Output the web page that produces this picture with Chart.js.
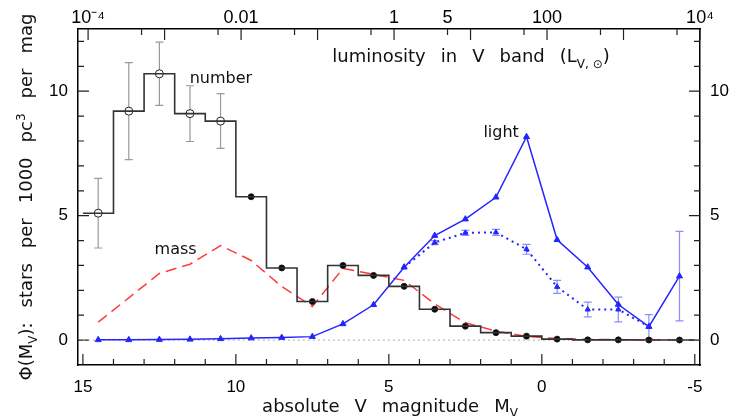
<!DOCTYPE html>
<html lang="en">
<head>
<meta charset="UTF-8" />
<title>Luminosity function</title>
<script src="https://cdn.jsdelivr.net/npm/chart.js"></script>
<style>
  body { margin: 0; background: #fff; }
  .wrap { width: 731px; height: 416px; position: relative; }
</style>
</head>
<body>
<div class="wrap"><canvas id="lf"></canvas></div>
<script>
// bin centres, absolute V magnitude
const mags = [14.5, 13.5, 12.5, 11.5, 10.5, 9.5, 8.5, 7.5, 6.5, 5.5, 4.5, 3.5, 2.5, 1.5, 0.5, -0.5, -1.5, -2.5, -3.5, -4.5];
const binEdges = [15, 14, 13, 12, 11, 10, 9, 8, 7, 6, 5, 4, 3, 2, 1, 0, -1, -2, -3, -4, -5];

// number of stars per 1000 pc^3 per mag
const numberVals = [5.1, 9.2, 10.7, 9.1, 8.8, 5.76, 2.9, 1.55, 3.0, 2.6, 2.16, 1.24, 0.56, 0.3, 0.16, 0.04, 0.01, 0.01, 0.005, 0.002];
const numberErr = [1.4, 1.95, 1.27, 1.12, 1.1, null, null, null, null, null, null, null, null, null, null, null, null, null, null, null];

// mass (dashed red)
const massVals = [0.72, 1.7, 2.68, 3.05, 3.8, 3.2, 2.15, 1.35, 2.88, 2.64, 2.4, 1.45, 0.7, 0.36, 0.15, 0.06, 0.03, 0.02, 0.01, 0.01];

// light (solid blue)
const lightVals = [0.01, 0.01, 0.02, 0.03, 0.05, 0.08, 0.1, 0.14, 0.65, 1.42, 2.93, 4.2, 4.86, 5.74, 8.17, 4.03, 2.93, 1.43, 0.54, 2.57];
const lightErr = [null, null, null, null, null, null, null, null, null, null, null, null, null, null, null, null, null, null, null, 1.8];

// light, alternative (dotted blue)
const lightAltMags = [4.5, 3.5, 2.5, 1.5, 0.5, -0.5, -1.5, -2.5, -3.5];
const lightAltVals = [2.93, 3.92, 4.31, 4.33, 3.65, 2.14, 1.23, 1.23, 0.54];
const lightAltErr = [null, 0.08, 0.1, 0.12, 0.2, 0.26, 0.3, 0.5, 0.48];

// axes
const magTicks = [15, 14, 13, 12, 11, 10, 9, 8, 7, 6, 5, 4, 3, 2, 1, 0, -1, -2, -3, -4, -5];
const phiTicks = [0, 1, 2, 3, 4, 5, 6, 7, 8, 9, 10, 11, 12];
const lumTicks = [1e-4, 5e-4, 1e-3, 5e-3, 0.01, 0.05, 0.1, 0.5, 1, 5, 10, 50, 100, 500, 1000, 5000, 1e4];
const lumLabels = ['10⁻⁴', '', '', '', '0.01', '', '', '', '1', '5', '', '', '100', '', '', '', '10⁴'];
const MSUN_V = 4.83;

const TICK_FONT = { family: '"Liberation Sans", Arial, sans-serif', size: 17 };
const TXT = '"DejaVu Sans", sans-serif';
const BLUE = '#2424ff';

const magOfLum = L => MSUN_V - 2.5 * Math.log10(L);

const errBarSets = [
  { x: mags, y: numberVals, err: numberErr, color: '#9a9a9a' },
  { x: mags, y: lightVals, err: lightErr, color: '#8c8cff' },
  { x: lightAltMags, y: lightAltVals, err: lightAltErr, color: '#8c8cff' }
];

const errorBars = {
  id: 'errorBars',
  beforeDatasetsDraw(chart) {
    const { ctx, scales: { x, y } } = chart;
    ctx.save();
    ctx.lineWidth = 1.2;
    errBarSets.forEach(s => {
      ctx.strokeStyle = s.color;
      s.err.forEach((e, i) => {
        if (e == null) return;
        const px = x.getPixelForValue(s.x[i]);
        const top = y.getPixelForValue(s.y[i] + e);
        const bot = y.getPixelForValue(s.y[i] - e);
        ctx.beginPath();
        ctx.moveTo(px, top); ctx.lineTo(px, bot);
        ctx.moveTo(px - 4, top); ctx.lineTo(px + 4, top);
        ctx.moveTo(px - 4, bot); ctx.lineTo(px + 4, bot);
        ctx.stroke();
      });
    });
    ctx.restore();
  }
};

// tick marks drawn inward, long at labelled values
const innerTicks = {
  id: 'innerTicks',
  beforeDatasetsDraw(chart) {
    const { ctx, chartArea: a, scales } = chart;
    ctx.save();
    ctx.strokeStyle = '#222';
    ctx.lineWidth = 1.2;
    ctx.beginPath();
    magTicks.forEach(m => {
      const px = scales.x.getPixelForValue(m);
      const len = m % 5 === 0 ? 11 : 6;
      ctx.moveTo(px, a.bottom); ctx.lineTo(px, a.bottom - len);
    });
    lumTicks.forEach(L => {
      const px = scales.x2.getPixelForValue(magOfLum(L));
      const lg = Math.log10(L);
      const len = Math.abs(lg - Math.round(lg)) < 1e-6 ? 11 : 6;
      ctx.moveTo(px, a.top); ctx.lineTo(px, a.top + len);
    });
    phiTicks.forEach(v => {
      const py = scales.y.getPixelForValue(v);
      const len = v % 5 === 0 ? 11 : 6;
      ctx.moveTo(a.left, py); ctx.lineTo(a.left + len, py);
      ctx.moveTo(a.right, py); ctx.lineTo(a.right - len, py);
    });
    ctx.stroke();
    ctx.restore();
  }
};

// text made of parts: {t, font, dy} or {gap}
function richWidth(ctx, parts) {
  let w = 0;
  parts.forEach(p => {
    if (p.gap) { w += p.gap; return; }
    ctx.font = p.font; w += ctx.measureText(p.t).width;
  });
  return w;
}
function drawRich(ctx, parts, cx, base) {
  let x = cx - richWidth(ctx, parts) / 2;
  parts.forEach(p => {
    if (p.gap) { x += p.gap; return; }
    ctx.font = p.font;
    ctx.fillText(p.t, x, base + (p.dy || 0));
    x += ctx.measureText(p.t).width;
  });
}

const big = '18px ' + TXT, small = '12px ' + TXT, lab = '16px ' + TXT;
const G = { gap: 15 };

const texts = {
  id: 'texts',
  afterDraw(chart) {
    const { ctx, chartArea: a, scales: { x, y } } = chart;
    ctx.save();
    ctx.fillStyle = '#111';
    ctx.textAlign = 'left';
    ctx.textBaseline = 'alphabetic';

    // bottom title
    drawRich(ctx, [
      { t: 'absolute', font: big }, G, { t: 'V', font: big }, G,
      { t: 'magnitude', font: big }, G, { t: 'M', font: big }, { t: 'V', font: small, dy: 5 }
    ], (a.left + a.right) / 2 + 1, 412);

    // top title
    drawRich(ctx, [
      { t: 'luminosity', font: big }, G, { t: 'in', font: big }, G, { t: 'V', font: big }, G,
      { t: 'band', font: big }, G, { t: '(L', font: big }, { t: 'V, ⊙', font: small, dy: 6 }, { t: ')', font: big }
    ], 471, 62);

    // in-plot labels
    ctx.font = lab;
    ctx.textAlign = 'center';
    ctx.fillText('number', x.getPixelForValue(10.49), y.getPixelForValue(10.35));
    ctx.fillText('mass', x.getPixelForValue(11.97), y.getPixelForValue(3.44));
    ctx.fillText('light', x.getPixelForValue(1.33), y.getPixelForValue(8.15));
    ctx.textAlign = 'left';

    // y title, rotated
    ctx.translate(32, (a.top + a.bottom) / 2);
    ctx.rotate(-Math.PI / 2);
    drawRich(ctx, [
      { t: 'Φ(M', font: big }, { t: 'V', font: small, dy: 5 }, { t: '):', font: big }, G,
      { t: 'stars', font: big }, G, { t: 'per', font: big }, G, { t: '1000', font: big }, G,
      { t: 'pc', font: big }, { t: '3', font: small, dy: -7 }, G, { t: 'per', font: big }, G, { t: 'mag', font: big }
    ], 0, 0);
    ctx.restore();
  }
};

const pts = (xs, ys) => xs.map((m, i) => ({ x: m, y: ys[i] }));
const hasErr = numberErr.map(e => e != null);

const axisBorder = { display: true, color: '#000', width: 1.5 };
const noGrid = { display: false, drawTicks: false };

new Chart(document.getElementById('lf'), {
  type: 'line',
  data: {
    datasets: [
      {
        // number histogram
        data: binEdges.map((m, i) => ({ x: m, y: numberVals[Math.min(i, numberVals.length - 1)] })),
        stepped: 'before',
        borderColor: '#333', borderWidth: 1.6, pointRadius: 0, fill: false
      },
      {
        // number markers
        data: pts(mags, numberVals),
        showLine: false,
        pointStyle: 'circle',
        pointRadius: hasErr.map(h => h ? 4 : 3),
        pointBackgroundColor: hasErr.map(h => h ? '#fff' : '#000'),
        pointBorderColor: '#222', pointBorderWidth: 1
      },
      {
        // light
        data: pts(mags, lightVals),
        borderColor: BLUE, borderWidth: 1.5,
        pointStyle: 'triangle', pointRadius: 3.5,
        pointBackgroundColor: BLUE, pointBorderColor: BLUE, pointBorderWidth: 1
      },
      {
        // light, dotted
        data: pts(lightAltMags, lightAltVals),
        borderColor: BLUE, borderWidth: 2, borderDash: [2, 4],
        pointStyle: 'triangle', pointRadius: 3,
        pointBackgroundColor: BLUE, pointBorderColor: BLUE, pointBorderWidth: 1
      },
      {
        // mass
        data: pts(mags, massVals),
        borderColor: '#ff3b3b', borderWidth: 1.5, borderDash: [11, 6], pointRadius: 0
      },
      {
        // zero line
        data: [{ x: 15, y: 0 }, { x: -5, y: 0 }],
        borderColor: '#aaa', borderWidth: 1, borderDash: [2, 3], pointRadius: 0
      }
    ]
  },
  options: {
    responsive: true,
    maintainAspectRatio: false,
    animation: false,
    layout: { padding: 0 },
    plugins: { legend: { display: false }, tooltip: { enabled: false } },
    scales: {
      x: {
        type: 'linear', position: 'bottom', reverse: true, min: -5.17, max: 15.16,
        afterBuildTicks: s => { s.ticks = magTicks.map(v => ({ value: v })); },
        afterFit: s => { s.height = 51; },
        grid: noGrid, border: axisBorder,
        ticks: {
          autoSkip: false, maxRotation: 0, padding: 12, color: '#000', font: TICK_FONT,
          callback: v => (v % 5 === 0 ? String(v) : '')
        }
      },
      x2: {
        type: 'linear', position: 'top', reverse: true, min: -5.17, max: 15.16,
        afterBuildTicks: s => { s.ticks = lumTicks.map(L => ({ value: magOfLum(L) })); },
        afterFit: s => { s.height = 29; },
        grid: noGrid, border: axisBorder,
        ticks: {
          autoSkip: false, maxRotation: 0, padding: 0, color: '#000',
          font: { family: TICK_FONT.family, size: 18 },
          callback: (v, i) => lumLabels[i]
        }
      },
      y: {
        type: 'linear', position: 'left', min: -1, max: 12.5,
        afterBuildTicks: s => { s.ticks = phiTicks.map(v => ({ value: v })); },
        afterFit: s => { s.width = 78; },
        grid: noGrid, border: axisBorder,
        ticks: {
          autoSkip: false, padding: 10, color: '#000', font: TICK_FONT,
          callback: v => (v % 5 === 0 ? String(v) : '')
        }
      },
      y2: {
        type: 'linear', position: 'right', min: -1, max: 12.5,
        afterBuildTicks: s => { s.ticks = phiTicks.map(v => ({ value: v })); },
        afterFit: s => { s.width = 31; },
        grid: noGrid, border: axisBorder,
        ticks: {
          autoSkip: false, padding: 10, color: '#000', font: TICK_FONT,
          callback: v => (v % 5 === 0 ? String(v) : '')
        }
      }
    }
  },
  plugins: [errorBars, innerTicks, texts]
});
</script>
</body>
</html>
